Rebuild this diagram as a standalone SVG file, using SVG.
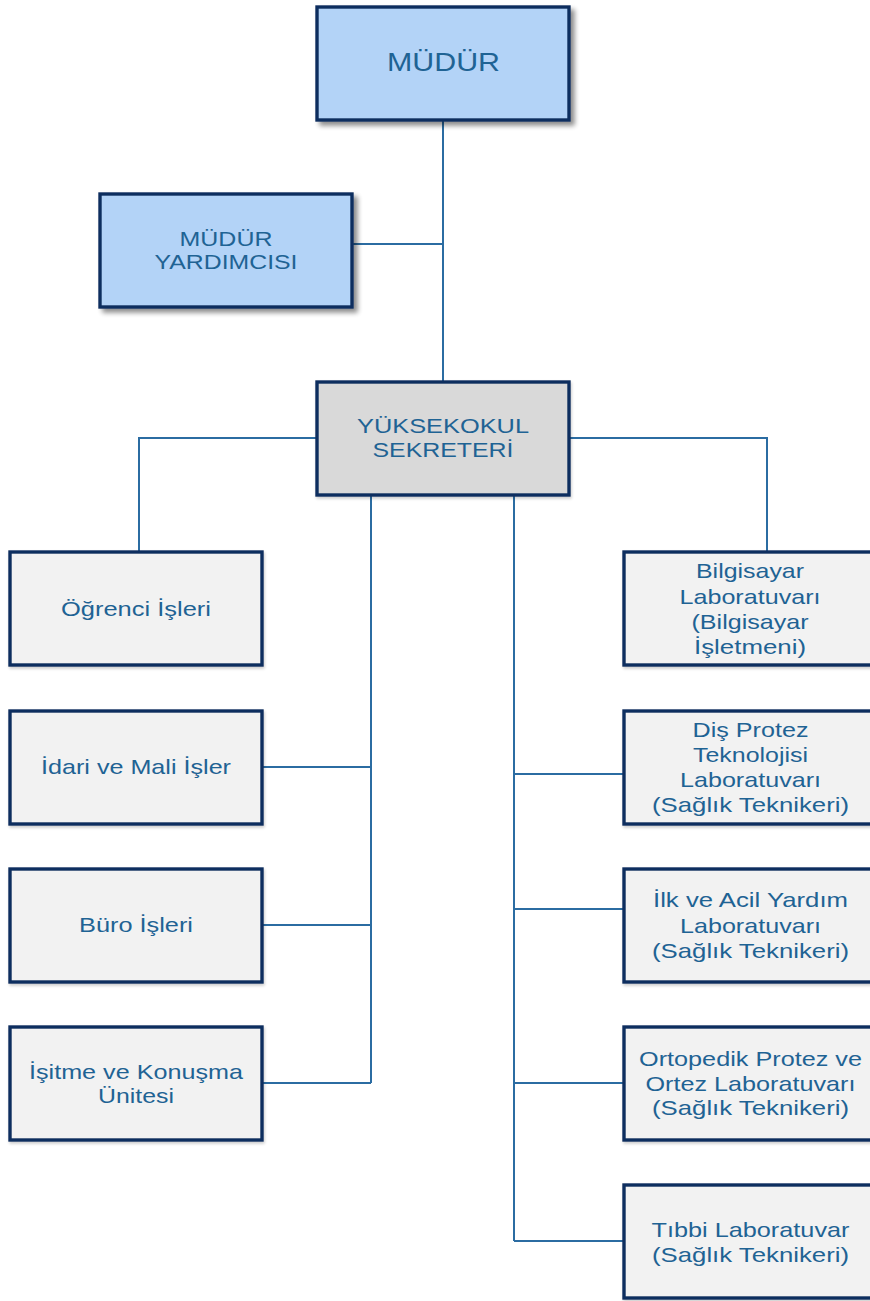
<svg xmlns="http://www.w3.org/2000/svg" width="870" height="1301" viewBox="0 0 870 1301">
<style>
.box{stroke:#0f2f5f;stroke-width:3.4}
.blue{fill:#b3d3f7}
.gray{fill:#d9d9d9}
.light{fill:#f2f2f2}
.t{font-family:"Liberation Sans",Arial,sans-serif;font-size:21px;fill:#1f6394;text-anchor:middle}
.big{font-size:25px}
.con{stroke:#2b6ca2;stroke-width:2;fill:none}
</style>
<defs>
<filter id="sh" x="-10%" y="-10%" width="125%" height="130%">
<feGaussianBlur in="SourceAlpha" stdDeviation="2.5"/>
<feOffset dx="4" dy="4" result="b"/>
<feComponentTransfer><feFuncA type="linear" slope="0.45"/></feComponentTransfer>
<feMerge><feMergeNode/><feMergeNode in="SourceGraphic"/></feMerge>
</filter>
<filter id="sh2" x="-10%" y="-10%" width="125%" height="130%">
<feGaussianBlur in="SourceAlpha" stdDeviation="1.5"/>
<feOffset dx="1" dy="2" result="b"/>
<feComponentTransfer><feFuncA type="linear" slope="0.2"/></feComponentTransfer>
<feMerge><feMergeNode/><feMergeNode in="SourceGraphic"/></feMerge>
</filter>
</defs>
<rect width="870" height="1301" fill="#ffffff"/>
<g id="connectors">
<path class="con" d="M443 121V381"/>
<path class="con" d="M353 244H443"/>
<path class="con" d="M316 438H139V551"/>
<path class="con" d="M570 438H767V551"/>
<path class="con" d="M371 496V1083"/>
<path class="con" d="M263 767H371M263 925H371M263 1083H371"/>
<path class="con" d="M514 496V1241"/>
<path class="con" d="M514 774H623M514 909H623M514 1083H623M514 1241H623"/>
</g>
<g id="mudur">
<rect class="box blue" x="317" y="7" width="252" height="113" filter="url(#sh)"/>
<text class="t big" x="443.5" y="71" textLength="113" lengthAdjust="spacingAndGlyphs">MÜDÜR</text>
</g>
<g id="mudur-yardimcisi">
<rect class="box blue" x="100" y="194" width="252" height="113" filter="url(#sh)"/>
<text class="t" x="226" y="246" textLength="93" lengthAdjust="spacingAndGlyphs">MÜDÜR</text>
<text class="t" x="226" y="269" textLength="143" lengthAdjust="spacingAndGlyphs">YARDIMCISI</text>
</g>
<g id="yuksekokul-sekreteri">
<rect class="box gray" x="317" y="382" width="252" height="113" filter="url(#sh2)"/>
<text class="t" x="443" y="433" textLength="172" lengthAdjust="spacingAndGlyphs">YÜKSEKOKUL</text>
<text class="t" x="443" y="457" textLength="141" lengthAdjust="spacingAndGlyphs">SEKRETERİ</text>
</g>
<g id="ogrenci-isleri">
<rect class="box light" x="10" y="552" width="252" height="113" filter="url(#sh2)"/>
<text class="t" x="136" y="616" textLength="150" lengthAdjust="spacingAndGlyphs">Öğrenci İşleri</text>
</g>
<g id="idari-mali-isler">
<rect class="box light" x="10" y="711" width="252" height="113" filter="url(#sh2)"/>
<text class="t" x="136" y="773.5" textLength="190" lengthAdjust="spacingAndGlyphs">İdari ve Mali İşler</text>
</g>
<g id="buro-isleri">
<rect class="box light" x="10" y="869" width="252" height="113" filter="url(#sh2)"/>
<text class="t" x="136" y="932" textLength="114" lengthAdjust="spacingAndGlyphs">Büro İşleri</text>
</g>
<g id="isitme-konusma">
<rect class="box light" x="10" y="1027" width="252" height="113" filter="url(#sh2)"/>
<text class="t" x="136" y="1078.5" textLength="214" lengthAdjust="spacingAndGlyphs">İşitme ve Konuşma</text>
<text class="t" x="136" y="1102.5" textLength="76" lengthAdjust="spacingAndGlyphs">Ünitesi</text>
</g>
<g id="bilgisayar-lab">
<rect class="box light" x="624" y="552" width="252" height="113" filter="url(#sh2)"/>
<text class="t" x="750" y="578" textLength="108" lengthAdjust="spacingAndGlyphs">Bilgisayar</text>
<text class="t" x="750" y="603.5" textLength="141" lengthAdjust="spacingAndGlyphs">Laboratuvarı</text>
<text class="t" x="750" y="628.5" textLength="117" lengthAdjust="spacingAndGlyphs">(Bilgisayar</text>
<text class="t" x="750" y="653.5" textLength="112" lengthAdjust="spacingAndGlyphs">İşletmeni)</text>
</g>
<g id="dis-protez-lab">
<rect class="box light" x="624" y="711" width="252" height="113" filter="url(#sh2)"/>
<text class="t" x="750.5" y="737" textLength="116" lengthAdjust="spacingAndGlyphs">Diş Protez</text>
<text class="t" x="750.5" y="762" textLength="115" lengthAdjust="spacingAndGlyphs">Teknolojisi</text>
<text class="t" x="750.5" y="787" textLength="141" lengthAdjust="spacingAndGlyphs">Laboratuvarı</text>
<text class="t" x="750.5" y="812" textLength="197" lengthAdjust="spacingAndGlyphs">(Sağlık Teknikeri)</text>
</g>
<g id="ilk-acil-lab">
<rect class="box light" x="624" y="869" width="252" height="113" filter="url(#sh2)"/>
<text class="t" x="750.5" y="907" textLength="195" lengthAdjust="spacingAndGlyphs">İlk ve Acil Yardım</text>
<text class="t" x="750.5" y="932.5" textLength="141" lengthAdjust="spacingAndGlyphs">Laboratuvarı</text>
<text class="t" x="750.5" y="957.5" textLength="197" lengthAdjust="spacingAndGlyphs">(Sağlık Teknikeri)</text>
</g>
<g id="ortopedik-lab">
<rect class="box light" x="624" y="1027" width="252" height="113" filter="url(#sh2)"/>
<text class="t" x="750.5" y="1066" textLength="223" lengthAdjust="spacingAndGlyphs">Ortopedik Protez ve</text>
<text class="t" x="750.5" y="1090.5" textLength="210" lengthAdjust="spacingAndGlyphs">Ortez Laboratuvarı</text>
<text class="t" x="750.5" y="1115" textLength="197" lengthAdjust="spacingAndGlyphs">(Sağlık Teknikeri)</text>
</g>
<g id="tibbi-lab">
<rect class="box light" x="624" y="1185" width="252" height="113" filter="url(#sh2)"/>
<text class="t" x="750.5" y="1236.5" textLength="198" lengthAdjust="spacingAndGlyphs">Tıbbi Laboratuvar</text>
<text class="t" x="750.5" y="1261.5" textLength="197" lengthAdjust="spacingAndGlyphs">(Sağlık Teknikeri)</text>
</g>
</svg>
